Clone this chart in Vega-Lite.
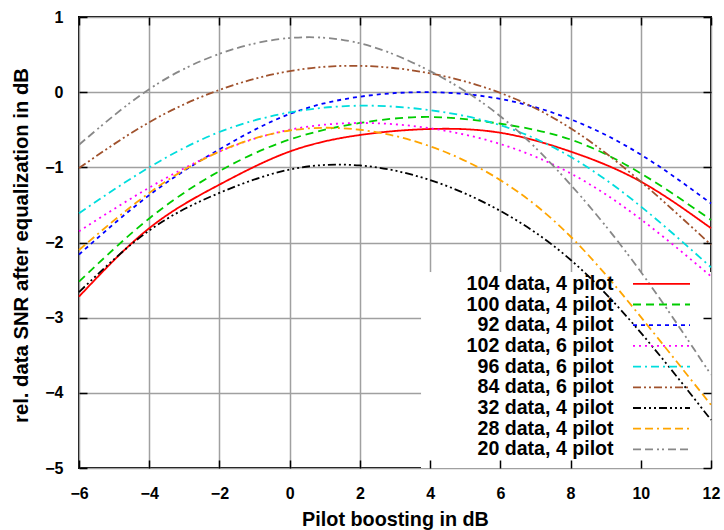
{
  "$schema": "https://vega.github.io/schema/vega-lite/v6.json",
  "width": 632,
  "height": 451,
  "autosize": {"type": "none"},
  "padding": {"left": 79, "top": 17, "right": 13, "bottom": 62},
  "background": "white",
  "config": {
    "font": "Liberation Sans",
    "view": {"stroke": "black", "strokeWidth": 2},
    "legend": {
      "orient": "none",
      "legendX": 572.7,
      "legendY": 257,
      "title": null,
      "padding": 0,
      "symbolType": "M-5.7,0L5.7,0",
      "symbolSize": 100,
      "symbolStrokeWidth": 1.8,
      "rowPadding": -0.3,
      "labelAlign": "right",
      "labelBaseline": "middle",
      "labelOffset": -57.7,
      "labelFont": "Liberation Sans",
      "labelFontSize": 19.6,
      "labelFontWeight": "bold",
      "labelColor": "black",
      "labelLimit": 400
    }
  },
  "data": {
    "values": [
      {"series": "104 data, 4 pilot", "x": -6, "y": -2.72},
      {"series": "104 data, 4 pilot", "x": -4, "y": -1.81},
      {"series": "104 data, 4 pilot", "x": -2, "y": -1.23},
      {"series": "104 data, 4 pilot", "x": 0, "y": -0.79},
      {"series": "104 data, 4 pilot", "x": 2, "y": -0.57},
      {"series": "104 data, 4 pilot", "x": 4, "y": -0.49},
      {"series": "104 data, 4 pilot", "x": 6, "y": -0.54},
      {"series": "104 data, 4 pilot", "x": 8, "y": -0.79},
      {"series": "104 data, 4 pilot", "x": 10, "y": -1.19},
      {"series": "104 data, 4 pilot", "x": 12, "y": -1.81},
      {"series": "100 data, 4 pilot", "x": -6, "y": -2.52},
      {"series": "100 data, 4 pilot", "x": -4, "y": -1.68},
      {"series": "100 data, 4 pilot", "x": -2, "y": -1.05},
      {"series": "100 data, 4 pilot", "x": 0, "y": -0.63},
      {"series": "100 data, 4 pilot", "x": 2, "y": -0.41},
      {"series": "100 data, 4 pilot", "x": 4, "y": -0.33},
      {"series": "100 data, 4 pilot", "x": 6, "y": -0.42},
      {"series": "100 data, 4 pilot", "x": 8, "y": -0.63},
      {"series": "100 data, 4 pilot", "x": 10, "y": -1.08},
      {"series": "100 data, 4 pilot", "x": 12, "y": -1.70},
      {"series": "92 data, 4 pilot", "x": -6, "y": -2.16},
      {"series": "92 data, 4 pilot", "x": -4, "y": -1.37},
      {"series": "92 data, 4 pilot", "x": -2, "y": -0.76},
      {"series": "92 data, 4 pilot", "x": 0, "y": -0.29},
      {"series": "92 data, 4 pilot", "x": 2, "y": -0.06},
      {"series": "92 data, 4 pilot", "x": 4, "y": 0.0},
      {"series": "92 data, 4 pilot", "x": 6, "y": -0.09},
      {"series": "92 data, 4 pilot", "x": 8, "y": -0.36},
      {"series": "92 data, 4 pilot", "x": 10, "y": -0.83},
      {"series": "92 data, 4 pilot", "x": 12, "y": -1.48},
      {"series": "102 data, 6 pilot", "x": -6, "y": -1.85},
      {"series": "102 data, 6 pilot", "x": -4, "y": -1.27},
      {"series": "102 data, 6 pilot", "x": -2, "y": -0.79},
      {"series": "102 data, 6 pilot", "x": 0, "y": -0.50},
      {"series": "102 data, 6 pilot", "x": 2, "y": -0.41},
      {"series": "102 data, 6 pilot", "x": 4, "y": -0.48},
      {"series": "102 data, 6 pilot", "x": 6, "y": -0.69},
      {"series": "102 data, 6 pilot", "x": 8, "y": -1.08},
      {"series": "102 data, 6 pilot", "x": 10, "y": -1.69},
      {"series": "102 data, 6 pilot", "x": 12, "y": -2.45},
      {"series": "96 data, 6 pilot", "x": -6, "y": -1.61},
      {"series": "96 data, 6 pilot", "x": -4, "y": -1.0},
      {"series": "96 data, 6 pilot", "x": -2, "y": -0.53},
      {"series": "96 data, 6 pilot", "x": 0, "y": -0.27},
      {"series": "96 data, 6 pilot", "x": 2, "y": -0.18},
      {"series": "96 data, 6 pilot", "x": 4, "y": -0.24},
      {"series": "96 data, 6 pilot", "x": 6, "y": -0.44},
      {"series": "96 data, 6 pilot", "x": 8, "y": -0.86},
      {"series": "96 data, 6 pilot", "x": 10, "y": -1.52},
      {"series": "96 data, 6 pilot", "x": 12, "y": -2.33},
      {"series": "84 data, 6 pilot", "x": -6, "y": -1.01},
      {"series": "84 data, 6 pilot", "x": -4, "y": -0.40},
      {"series": "84 data, 6 pilot", "x": -2, "y": 0.03},
      {"series": "84 data, 6 pilot", "x": 0, "y": 0.28},
      {"series": "84 data, 6 pilot", "x": 2, "y": 0.35},
      {"series": "84 data, 6 pilot", "x": 4, "y": 0.25},
      {"series": "84 data, 6 pilot", "x": 6, "y": -0.01},
      {"series": "84 data, 6 pilot", "x": 8, "y": -0.48},
      {"series": "84 data, 6 pilot", "x": 10, "y": -1.19},
      {"series": "84 data, 6 pilot", "x": 12, "y": -2.03},
      {"series": "32 data, 4 pilot", "x": -6, "y": -2.66},
      {"series": "32 data, 4 pilot", "x": -4, "y": -1.84},
      {"series": "32 data, 4 pilot", "x": -2, "y": -1.34},
      {"series": "32 data, 4 pilot", "x": 0, "y": -1.03},
      {"series": "32 data, 4 pilot", "x": 2, "y": -0.975},
      {"series": "32 data, 4 pilot", "x": 4, "y": -1.17},
      {"series": "32 data, 4 pilot", "x": 6, "y": -1.58},
      {"series": "32 data, 4 pilot", "x": 8, "y": -2.23},
      {"series": "32 data, 4 pilot", "x": 10, "y": -3.20},
      {"series": "32 data, 4 pilot", "x": 12, "y": -4.36},
      {"series": "28 data, 4 pilot", "x": -6, "y": -2.10},
      {"series": "28 data, 4 pilot", "x": -4, "y": -1.34},
      {"series": "28 data, 4 pilot", "x": -2, "y": -0.79},
      {"series": "28 data, 4 pilot", "x": 0, "y": -0.51},
      {"series": "28 data, 4 pilot", "x": 2, "y": -0.50},
      {"series": "28 data, 4 pilot", "x": 4, "y": -0.72},
      {"series": "28 data, 4 pilot", "x": 6, "y": -1.17},
      {"series": "28 data, 4 pilot", "x": 8, "y": -1.92},
      {"series": "28 data, 4 pilot", "x": 10, "y": -2.99},
      {"series": "28 data, 4 pilot", "x": 12, "y": -4.16},
      {"series": "20 data, 4 pilot", "x": -6, "y": -0.70},
      {"series": "20 data, 4 pilot", "x": -4, "y": 0.04},
      {"series": "20 data, 4 pilot", "x": -2, "y": 0.51},
      {"series": "20 data, 4 pilot", "x": 0, "y": 0.72},
      {"series": "20 data, 4 pilot", "x": 2, "y": 0.65},
      {"series": "20 data, 4 pilot", "x": 4, "y": 0.28},
      {"series": "20 data, 4 pilot", "x": 6, "y": -0.32},
      {"series": "20 data, 4 pilot", "x": 8, "y": -1.23},
      {"series": "20 data, 4 pilot", "x": 10, "y": -2.39},
      {"series": "20 data, 4 pilot", "x": 12, "y": -3.76}
    ]
  },
  "resolve": {"axis": {"x": "independent", "y": "independent"}},
  "layer": [
    {
      "mark": {"type": "rect", "fill": "white", "stroke": null},
      "encoding": {
        "x": {
          "datum": 3.76,
          "type": "quantitative",
          "scale": {"domain": [-6, 12], "nice": false, "zero": false},
          "axis": {
            "orient": "top",
            "values": [-6, -4, -2, 0, 2, 4, 6, 8, 10, 12],
            "labels": false,
            "domain": false,
            "grid": true,
            "gridColor": "#a0a0a0",
            "gridWidth": 1.5,
            "ticks": true,
            "tickColor": "black",
            "tickWidth": 1.5,
            "tickSize": -8,
            "title": null,
            "zindex": 0
          }
        },
        "x2": {"datum": 12},
        "y": {
          "datum": -5,
          "type": "quantitative",
          "scale": {"domain": [-5, 1], "nice": false, "zero": false},
          "axis": {
            "orient": "right",
            "values": [-5, -4, -3, -2, -1, 0, 1],
            "labels": false,
            "domain": false,
            "grid": false,
            "ticks": true,
            "tickColor": "black",
            "tickWidth": 1.5,
            "tickSize": -8,
            "title": null,
            "zindex": 1
          }
        },
        "y2": {"datum": -2.404}
      }
    },
    {
      "mark": {"type": "line", "interpolate": "natural", "strokeWidth": 1.8},
      "encoding": {
        "x": {
          "field": "x",
          "type": "quantitative",
          "scale": {"domain": [-6, 12], "nice": false, "zero": false},
          "axis": {
            "orient": "bottom",
            "values": [-6, -4, -2, 0, 2, 4, 6, 8, 10, 12],
            "domain": false,
            "grid": false,
            "ticks": true,
            "tickColor": "black",
            "tickWidth": 1.5,
            "tickSize": -8,
            "labelPadding": 25,
            "labelFlush": false,
            "labelOverlap": false,
            "labelFont": "Liberation Sans",
            "labelFontSize": 16,
            "labelFontWeight": "bold",
            "labelColor": "black",
            "title": "Pilot boosting in dB",
            "titleFont": "Liberation Sans",
            "titleFontSize": 19.8,
            "titleFontWeight": "bold",
            "titleColor": "black",
            "titleBaseline": "alphabetic",
            "titleY": 57,
            "zindex": 1
          }
        },
        "y": {
          "field": "y",
          "type": "quantitative",
          "scale": {"domain": [-5, 1], "nice": false, "zero": false},
          "axis": {
            "orient": "left",
            "values": [-5, -4, -3, -2, -1, 0, 1],
            "domain": false,
            "grid": true,
            "gridColor": "#a0a0a0",
            "gridWidth": 1.5,
            "ticks": true,
            "tickColor": "black",
            "tickWidth": 1.5,
            "tickSize": -8,
            "labelPadding": 24,
            "labelFlush": false,
            "labelOverlap": false,
            "labelFont": "Liberation Sans",
            "labelFontSize": 16,
            "labelFontWeight": "bold",
            "labelColor": "black",
            "title": "rel. data SNR after equalization in dB",
            "titleFont": "Liberation Sans",
            "titleFontSize": 20.3,
            "titleFontWeight": "bold",
            "titleColor": "black",
            "titleAngle": -90,
            "titleBaseline": "alphabetic",
            "titleAlign": "center",
            "titleX": -51.6,
            "titleY": 228,
            "zindex": 0
          }
        },
        "color": {
          "field": "series",
          "type": "nominal",
          "scale": {
            "domain": ["104 data, 4 pilot", "100 data, 4 pilot", "92 data, 4 pilot", "102 data, 6 pilot", "96 data, 6 pilot", "84 data, 6 pilot", "32 data, 4 pilot", "28 data, 4 pilot", "20 data, 4 pilot"],
            "range": ["#ff0000", "#00cc00", "#0000ff", "#ff00ff", "#00dddd", "#a0522d", "#000000", "#ffa500", "#888888"]
          }
        },
        "strokeDash": {
          "field": "series",
          "type": "nominal",
          "scale": {
            "domain": ["104 data, 4 pilot", "100 data, 4 pilot", "92 data, 4 pilot", "102 data, 6 pilot", "96 data, 6 pilot", "84 data, 6 pilot", "32 data, 4 pilot", "28 data, 4 pilot", "20 data, 4 pilot"],
            "range": [[1, 0], [8, 5], [4, 4], [2, 4], [8, 4, 2, 4], [8, 3, 2, 3, 2, 3], [8, 3, 2, 3, 2, 3, 2, 3], [8, 4, 8, 4, 2, 4], [8, 4, 8, 4, 2, 3, 2, 4]]
          }
        }
      }
    }
  ]
}
